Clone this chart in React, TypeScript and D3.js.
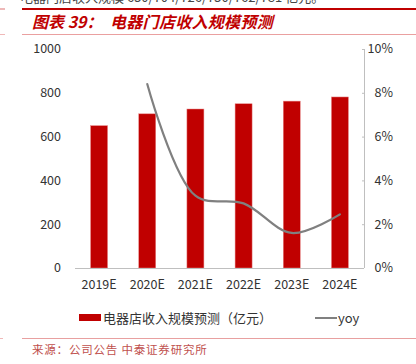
import React from "react";
import * as d3 from "d3";

const categories = ["2019E", "2020E", "2021E", "2022E", "2023E", "2024E"];
const revenue = [650, 704, 726, 750, 762, 781];
const yoyCats = ["2020E", "2021E", "2022E", "2023E", "2024E"];
const yoy = [0.084, 0.033, 0.0295, 0.016, 0.0245];
const leftTicks = [0, 200, 400, 600, 800, 1000];
const rightTicks = [0, 0.02, 0.04, 0.06, 0.08, 0.1];

const W = 416;
const H = 364;
const X0 = 75;
const X1 = 364;
const Y0 = 268;
const Y1 = 49;

const FONT = "'Noto Sans CJK SC', 'Noto Sans', sans-serif";

export default function App() {
  const x = d3
    .scaleBand<string>()
    .domain(categories)
    .range([X0, X1])
    .paddingInner(0.647)
    .paddingOuter(0.3235);
  const yL = d3.scaleLinear().domain([0, 1000]).range([Y0, Y1]);
  const yR = d3.scaleLinear().domain([0, 0.1]).range([Y0, Y1]);
  const cx = (c: string) => (x(c) as number) + x.bandwidth() / 2;

  const linePath = d3
    .line<number>()
    .x((_, i) => cx(yoyCats[i]))
    .y((d) => yR(d))
    .curve(d3.curveCatmullRom.alpha(0.5))(yoy) as string;

  return (
    <svg
      width={W}
      height={H}
      style={{ position: "absolute", left: 0, top: 0, background: "#fff" }}
      fontFamily={FONT}
    >
      {/* cropped header text */}
      <text x={20} y={1.5} fontSize={13} fill="#444">
        电器门店收入规模 650/704/726/750/762/781 亿元。
      </text>
      {/* title rules */}
      <line x1={0} x2={5} y1={9} y2={9} stroke="#e8a0a0" strokeWidth={1.5} />
      <line x1={22} x2={W} y1={9} y2={9} stroke="#c00000" strokeWidth={2} />
      <line x1={0} x2={5} y1={34.5} y2={34.5} stroke="#f0b8b8" strokeWidth={1} />
      <line x1={22} x2={W} y1={34.5} y2={34.5} stroke="#eaa0a0" strokeWidth={1} />
      <text
        x={32}
        y={28}
        fontSize={16}
        fontWeight="bold"
        fontStyle="italic"
        fill="#c00000"
      >
        图表 39：
      </text>
      <text
        x={110}
        y={28}
        fontSize={16}
        fontWeight="bold"
        fontStyle="italic"
        fill="#c00000"
        letterSpacing={0.3}
      >
        电器门店收入规模预测
      </text>

      {/* bars */}
      {categories.map((c, i) => (
        <rect
          key={c}
          x={x(c)}
          y={yL(revenue[i])}
          width={x.bandwidth()}
          height={Y0 - yL(revenue[i])}
          fill="#c00000"
          stroke="#e88a8a"
          strokeWidth={0.5}
        />
      ))}

      {/* axes */}
      <line x1={X0} x2={X1} y1={Y0 + 0.5} y2={Y0 + 0.5} stroke="#bfbfbf" strokeWidth={1} />
      <line x1={X1 + 0.5} x2={X1 + 0.5} y1={Y1} y2={Y0} stroke="#bfbfbf" strokeWidth={1} />
      {rightTicks.map((t) => (
        <line
          key={"rt" + t}
          x1={X1 - 2}
          x2={X1}
          y1={yR(t) + 0.5}
          y2={yR(t) + 0.5}
          stroke="#bfbfbf"
        />
      ))}
      {leftTicks.map((t) => (
        <text
          key={"l" + t}
          x={61}
          y={yL(t)}
          dy="0.35em"
          textAnchor="end"
          fontSize={12.5}
          fill="#333"
        >
          {t}
        </text>
      ))}
      {rightTicks.map((t) => (
        <text
          key={"r" + t}
          x={393}
          y={yR(t)}
          dy="0.35em"
          textAnchor="end"
          fontSize={12.5}
          fill="#333"
        >
          {d3.format(".0%")(t)}
        </text>
      ))}
      {categories.map((c) => (
        <text
          key={"x" + c}
          x={cx(c)}
          y={285}
          dy="0.35em"
          textAnchor="middle"
          fontSize={12.5}
          fill="#333"
        >
          {c}
        </text>
      ))}

      {/* yoy line */}
      <path d={linePath} fill="none" stroke="#808080" strokeWidth={2.2} strokeLinecap="round" />

      {/* legend */}
      <rect x={79} y={314} width={22} height={7} fill="#c00000" />
      <text x={103} y={318} dy="0.35em" fontSize={13} fill="#333">
        电器店收入规模预测（亿元）
      </text>
      <line x1={315} x2={337} y1={318} y2={318} stroke="#808080" strokeWidth={2} />
      <text x={338} y={318} dy="0.35em" fontSize={13} fill="#333">
        yoy
      </text>

      {/* source */}
      <line x1={0} x2={3} y1={338.5} y2={338.5} stroke="#f0b8b8" strokeWidth={1} />
      <line x1={22} x2={W} y1={338.5} y2={338.5} stroke="#e8a0a0" strokeWidth={1} />
      <text x={32} y={350} dy="0.35em" fontSize={11.5} fill="#c0504d" letterSpacing={0.8}>
        来源：公司公告 中泰证券研究所
      </text>
    </svg>
  );
}
